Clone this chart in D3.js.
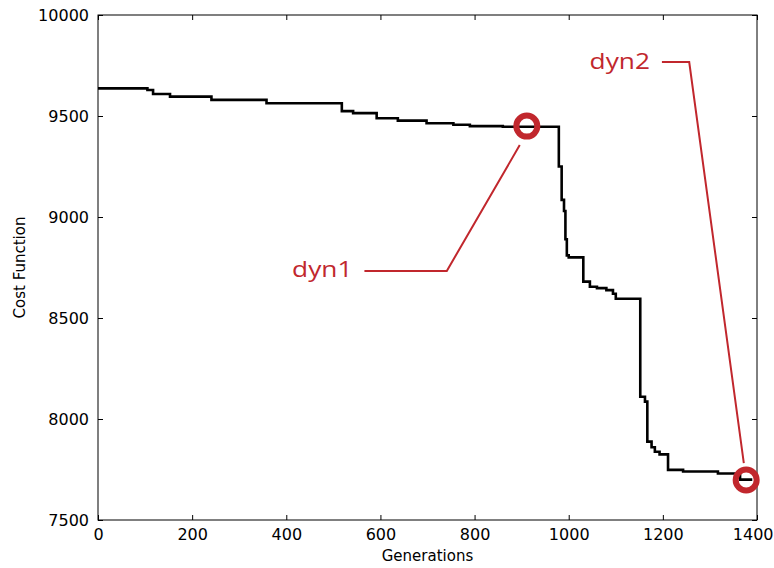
<!DOCTYPE html>
<html><head><meta charset="utf-8">
<script src="https://cdn.jsdelivr.net/npm/d3@7"></script>
<style>
html,body{margin:0;padding:0;background:#fff;}
svg{display:block;}
</style></head>
<body>
<svg id="chart" width="774" height="568"></svg>
<script>
// Step series: generation at which the cost changes, and the new cost value
const generations = [0, 105, 117, 153, 241, 358, 518, 542, 592, 637, 698, 755, 790, 860, 979, 985, 990, 993, 996, 1000, 1031, 1045, 1060, 1080, 1094, 1100, 1152, 1162, 1167, 1176, 1183, 1193, 1211, 1243, 1317, 1364, 1390];
const costs = [9637, 9629, 9609, 9596, 9580, 9563, 9524, 9514, 9489, 9477, 9464, 9457, 9450, 9447, 9250, 9085, 9030, 8890, 8810, 8800, 8680, 8655, 8648, 8638, 8620, 8595, 8110, 8086, 7888, 7860, 7838, 7825, 7748, 7740, 7730, 7700, 7700];
const xTicks = [0, 200, 400, 600, 800, 1000, 1200, 1400];
const yTicks = [7500, 8000, 8500, 9000, 9500, 10000];
const annLabels = ["dyn1", "dyn2"];
const annPoint = [[911, 9450], [1377, 7698]];      // circled point
const annArrowEnd = [[896, 9356], [1372, 7782]];   // leader end near circle
const annCorner = [[741, 8733], [1256, 9767]];     // elbow of leader
const annTextEnd = [[566, 8733], [1198, 9767]];    // leader start next to text

const svg = d3.select("#chart");
const m = {left: 98, right: 757, top: 15, bottom: 520};
const x = d3.scaleLinear().domain([0, 1400]).range([m.left, m.right]);
const y = d3.scaleLinear().domain([7500, 10000]).range([m.bottom, m.top]);
const red = "#c1272d";
const tickFont = "DejaVu Sans";
const fmt = d3.format("d");

// frame
svg.append("rect").attr("x", m.left).attr("y", m.top)
  .attr("width", m.right - m.left).attr("height", m.bottom - m.top)
  .attr("fill", "none").attr("stroke", "#000").attr("stroke-width", 1);

// axes with inward ticks
const gx = svg.append("g").attr("transform", `translate(0,${m.bottom})`)
  .call(d3.axisBottom(x).tickValues(xTicks).tickFormat(fmt).tickSizeInner(-5).tickSizeOuter(0).tickPadding(9));
const gxt = svg.append("g").attr("transform", `translate(0,${m.top})`)
  .call(d3.axisTop(x).tickValues(xTicks).tickSizeInner(-5).tickSizeOuter(0).tickFormat(""));
const gy = svg.append("g").attr("transform", `translate(${m.left},0)`)
  .call(d3.axisLeft(y).tickValues(yTicks).tickFormat(fmt).tickSizeInner(-5).tickSizeOuter(0).tickPadding(9));
const gyr = svg.append("g").attr("transform", `translate(${m.right},0)`)
  .call(d3.axisRight(y).tickValues(yTicks).tickSizeInner(-5).tickSizeOuter(0).tickFormat(""));
[gx, gxt, gy, gyr].forEach(g => {
  g.select(".domain").remove();
  g.selectAll("line").attr("stroke", "#000");
  g.selectAll("text").attr("font-family", tickFont).attr("font-size", 16).attr("fill", "#000");
});
gx.selectAll("text").attr("dy", "0.71em");
// keep the last x tick label inside the window
gx.selectAll(".tick").filter(d => d === 1400).select("text")
  .attr("text-anchor", "end").attr("x", 16);

// axis labels
svg.append("text").attr("x", (m.left + m.right) / 2).attr("y", 561)
  .attr("text-anchor", "middle").attr("font-family", tickFont).attr("font-size", 15)
  .text("Generations");
svg.append("text").attr("transform", `translate(25,${(m.top + m.bottom) / 2}) rotate(-90)`)
  .attr("text-anchor", "middle").attr("font-family", tickFont).attr("font-size", 15)
  .text("Cost Function");

// step line
const data = generations.map((g, i) => [g, costs[i]]);
svg.append("path").datum(data)
  .attr("fill", "none").attr("stroke", "#000").attr("stroke-width", 2.6)
  .attr("d", d3.line().x(d => x(d[0])).y(d => y(d[1])).curve(d3.curveStepAfter));

// annotations
annLabels.forEach((lab, i) => {
  const pts = [annTextEnd[i], annCorner[i], annArrowEnd[i]];
  svg.append("path").datum(pts).attr("fill", "none").attr("stroke", red).attr("stroke-width", 2)
    .attr("d", d3.line().x(d => x(d[0])).y(d => y(d[1])));
  svg.append("circle").attr("cx", x(annPoint[i][0])).attr("cy", y(annPoint[i][1]))
    .attr("r", 10.5).attr("fill", "none").attr("stroke", red).attr("stroke-width", 6);
  svg.append("text")
    .attr("transform", `translate(${x(annTextEnd[i][0]) - 12},${y(annTextEnd[i][1]) + 6.5}) scale(1.25,1)`)
    .attr("text-anchor", "end")
    .attr("font-family", "Open Sans").attr("font-size", 21)
    .attr("fill", red).text(lab);
});
</script>
</body></html>
